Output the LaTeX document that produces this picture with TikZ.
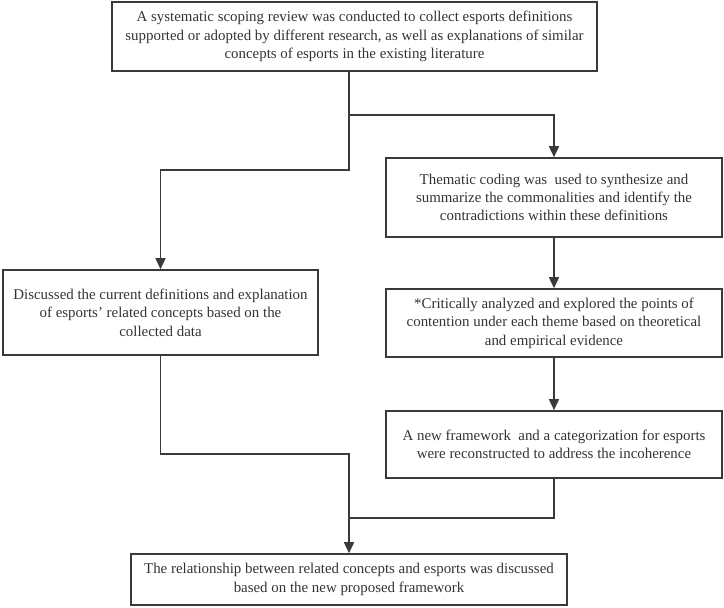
\documentclass[tikz,border=0pt]{standalone}
\usepackage{fontspec}
\setmainfont{Liberation Serif}
\usetikzlibrary{arrows.meta,calc}
\definecolor{ln}{HTML}{3A3A3A}
\definecolor{tx}{HTML}{333333}
\tikzset{
  box/.style={draw=ln, line width=1.6pt, align=center, inner sep=0pt, text=tx,
    font=\fontsize{14.9}{18.4}\selectfont},
  conn/.style={draw=ln, line width=1.6pt},
  arr/.style={conn, -{Triangle[width=10pt,length=11pt]}}
}
\begin{document}
\begin{tikzpicture}[x=1pt,y=1pt]
\useasboundingbox (0,0) rectangle (724,608);
\node[box, minimum width=485pt, minimum height=69pt] (top) at (354.5,571.5)
  {A systematic scoping review was conducted to collect esports definitions\\
   supported or adopted by different research, as well as explanations of similar\\
   concepts of esports in the existing literature};
\node[box, minimum width=336pt, minimum height=79pt] (them) at (554,410.5)
  {Thematic coding was\ \ used to synthesize and\\
   summarize the commonalities and identify the\\
   contradictions within these definitions};
\node[box, minimum width=315pt, minimum height=85pt] (disc) at (160.5,295.5)
  {Discussed the current definitions and explanation\\
   of esports{\char"0027} related concepts based on the\\
   collected data};
\node[box, minimum width=336pt, minimum height=68pt] (crit) at (554,285)
  {*Critically analyzed and explored the points of\\
   contention under each theme based on theoretical\\
   and empirical evidence};
\node[box, minimum width=336pt, minimum height=67pt] (newfw) at (554,163.5)
  {A new framework\ \ and a categorization for esports\\
   were reconstructed to address the incoherence};
\node[box, minimum width=436pt, minimum height=51pt] (bot) at (349,28.5)
  {The relationship between related concepts and esports was discussed\\
   based on the new proposed framework};
\draw[arr] (top.south -| bot.north) -- ++(0,-43) -| (them.north);
\draw[arr] (top.south -| bot.north) -- ++(0,-98) -| (disc.north);
\draw[arr] (them.south) -- (crit.north);
\draw[arr] (crit.south) -- (newfw.north);
\draw[arr] (disc.south) -- ++(0,-98) -| (bot.north);
\coordinate (join) at ($(newfw.south -| bot.north)+(0,-39)$);
\draw[conn] (newfw.south) |- (join);
\end{tikzpicture}
\end{document}
